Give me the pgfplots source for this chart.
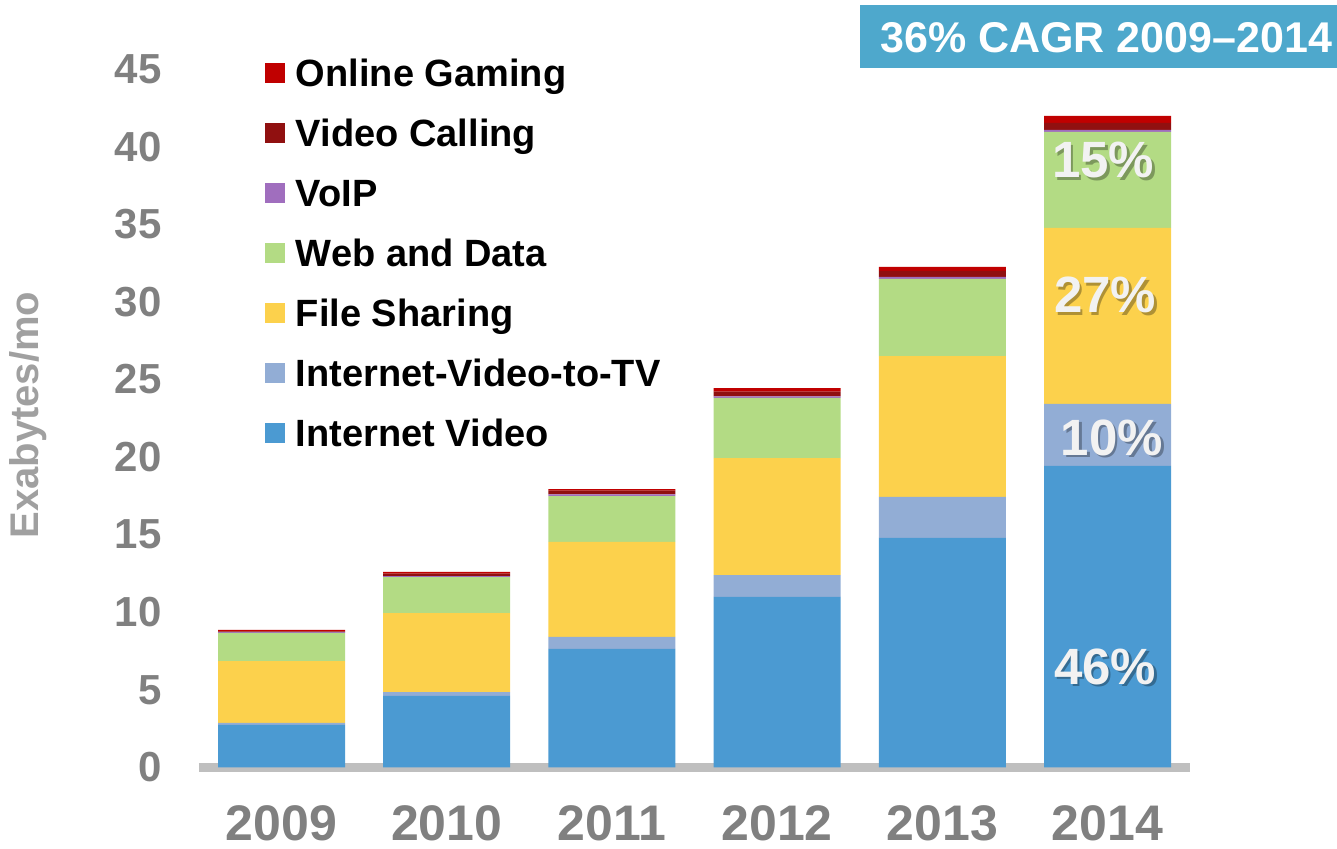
\documentclass[border=0pt]{standalone}
\usepackage{fontspec}
\setmainfont{Liberation Sans}
\usepackage{pgfplots}
\pgfplotsset{compat=1.18}
\usepackage{pgfplotstable}

\definecolor{cIV}{RGB}{75,154,210}
\definecolor{cTV}{RGB}{146,173,213}
\definecolor{cFS}{RGB}{252,209,76}
\definecolor{cWeb}{RGB}{179,219,132}
\definecolor{cVoIP}{RGB}{160,110,190}
\definecolor{cVC}{RGB}{144,16,16}
\definecolor{cOG}{RGB}{192,0,0}
\definecolor{cagr}{RGB}{78,168,204}
\definecolor{tickgray}{RGB}{128,128,128}
\definecolor{labgray}{RGB}{160,160,160}
\definecolor{axgray}{RGB}{191,191,191}
\definecolor{pctwhite}{RGB}{242,242,242}

% exabytes per month
\pgfplotstableread{
x IV TV FS Web VoIP VC OG
0 2.74 0.13 3.99 1.81 0.05 0.05 0.09
1 4.61 0.25 5.09 2.32 0.06 0.16 0.11
2 7.64 0.77 6.12 2.96 0.10 0.25 0.10
3 10.99 1.41 7.54 3.87 0.10 0.30 0.24
4 14.79 2.64 9.08 4.97 0.13 0.38 0.26
5 19.43 3.99 11.34 6.19 0.13 0.45 0.45
}\traffic

\newcommand{\pctfont}{\fontsize{51}{51}\selectfont\bfseries}
\newcommand{\pct}[2]{%
  \node[inner sep=0pt, text=black, opacity=0.3, xshift=2.5pt, yshift=-2.5pt, font=\pctfont] at (#1) {#2};
  \node[inner sep=0pt, text=pctwhite, font=\pctfont] at (#1) {#2};
}

\begin{document}
\begin{tikzpicture}
\begin{axis}[
  x=165.2pt, y=15.52pt,
  xmin=-0.5, xmax=5.5, ymin=0, ymax=45,
  ybar stacked, bar width=127pt,
  clip=false,
  axis line style={draw=none},
  tick style={draw=none},
  xtick={0,...,5},
  xticklabels={2009,2010,2011,2012,2013,2014},
  ytick={0,5,...,45},
  /pgf/number format/assume math mode=true,
  yticklabel style={anchor=east, inner sep=0pt, xshift=-37pt,
    font=\fontsize{42}{42}\selectfont\bfseries, text=tickgray},
  xticklabel style={anchor=base, inner sep=0pt, yshift=-73pt,
    font=\fontsize{50}{50}\selectfont\bfseries, text=tickgray},
  reverse legend,
  legend cell align=left,
  legend image code/.code={\fill[#1] (0pt,-5.8pt) rectangle (20pt,14.2pt);},
  legend style={draw=none, fill=none, inner sep=0pt, outer sep=0pt,
    at={(axis cs:-0.1,45.7)}, anchor=north west,
    row sep=23pt, column sep=11pt,
    font=\fontsize{38}{38}\selectfont\bfseries,
    nodes={text height=28pt, text depth=9pt, inner sep=0pt}},
]
\addplot[fill=cIV, draw=none] table[x=x, y=IV]{\traffic};
\addplot[fill=cTV, draw=none] table[x=x, y=TV]{\traffic};
\addplot[fill=cFS, draw=none] table[x=x, y=FS]{\traffic};
\addplot[fill=cWeb, draw=none] table[x=x, y=Web]{\traffic};
\addplot[fill=cVoIP, draw=none] table[x=x, y=VoIP]{\traffic};
\addplot[fill=cVC, draw=none] table[x=x, y=VC]{\traffic};
\addplot[fill=cOG, draw=none] table[x=x, y=OG]{\traffic};
\legend{Internet Video, Internet-Video-to-TV, File Sharing, Web and Data, VoIP, Video Calling, Online Gaming}

\draw[line width=9pt, axgray] (axis cs:-0.5,0) -- (axis cs:5.5,0);

\node[rotate=90, inner sep=0pt, text=labgray,
  font=\fontsize{40}{40}\selectfont\bfseries] at (axis cs:-1.5345,22.71) {Exabytes/mo};

\fill[cagr] (axis cs:3.502,45.07) rectangle (axis cs:6.6,49.13);

\coordinate (p15) at (axis cs:4.974,39.14);
\coordinate (p27) at (axis cs:4.985,30.44);
\coordinate (p10) at (axis cs:5.027,21.26);
\coordinate (p46) at (axis cs:4.985,6.48);
\coordinate (cg) at (axis cs:3.623,46.04);
\coordinate (bl) at (axis cs:-1.704,-5.251);
\coordinate (tr) at (axis cs:6.389,49.45);
\end{axis}

\pct{p15}{15\%}
\pct{p27}{27\%}
\pct{p10}{10\%}
\pct{p46}{46\%}
\node[anchor=base west, inner sep=0pt, text=white,
  font=\fontsize{43}{43}\selectfont\bfseries] at (cg) {36\% CAGR 2009–2014};

\pgfresetboundingbox
\useasboundingbox (bl) rectangle (tr);
\end{tikzpicture}
\end{document}
